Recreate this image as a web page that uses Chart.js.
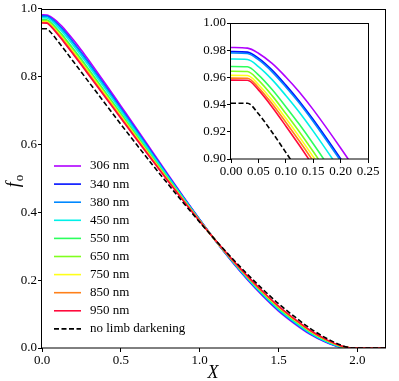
<!DOCTYPE html>
<html>
<head>
<meta charset="utf-8">
<script src="https://cdn.jsdelivr.net/npm/chart.js@4.4.1/dist/chart.umd.min.js"></script>
<style>
  html, body { margin: 0; padding: 0; background: #fff; }
  #wrap { position: relative; width: 399px; height: 381px; }
  #main { position: absolute; left: 0; top: 0; }
  #inset { position: absolute; left: 185px; top: 13px; }
</style>
</head>
<body>
<div id="wrap">
  <canvas id="main" width="399" height="381"></canvas>
  <canvas id="inset" width="200" height="175"></canvas>
</div>
<script>
// separation X and overlap fraction f_o for each wavelength
const X = [0, 0.03, 0.05, 0.075, 0.1, 0.125, 0.15, 0.2, 0.25, 0.3, 0.4, 0.5, 0.6, 0.7, 0.8, 0.9, 1.0,
  1.1, 1.2, 1.3, 1.4, 1.5, 1.6, 1.7, 1.8, 1.9, 1.95, 1.97, 2.0, 2.175];

const f306 = [0.982, 0.9815, 0.9778, 0.9703, 0.9603, 0.9491, 0.9363, 0.9081, 0.8780, 0.8461, 0.7807, 0.7137, 0.6466, 0.5786, 0.5107, 0.4441, 0.3791, 0.3161, 0.2573, 0.2027, 0.1532, 0.1086, 0.0720, 0.0400, 0.0166, 0.0013, 0, 0, 0, 0];
const f340 = [0.979, 0.9786, 0.9741, 0.9653, 0.9543, 0.9423, 0.9290, 0.9002, 0.8700, 0.8382, 0.7733, 0.7071, 0.6408, 0.5739, 0.5073, 0.4419, 0.3781, 0.3163, 0.2585, 0.2047, 0.1556, 0.1113, 0.0746, 0.0422, 0.0182, 0.0021, 0.0002, 0, 0, 0];
const f380 = [0.978, 0.9776, 0.9730, 0.9641, 0.9530, 0.9410, 0.9276, 0.8987, 0.8685, 0.8368, 0.7719, 0.7058, 0.6397, 0.5731, 0.5066, 0.4415, 0.3779, 0.3164, 0.2588, 0.2050, 0.1561, 0.1118, 0.0751, 0.0426, 0.0185, 0.0022, 0.0002, 0, 0, 0];
const f450 = [0.9735, 0.9732, 0.9680, 0.9584, 0.9467, 0.9342, 0.9205, 0.8913, 0.8610, 0.8294, 0.7650, 0.6996, 0.6343, 0.5687, 0.5034, 0.4394, 0.3770, 0.3166, 0.2599, 0.2069, 0.1584, 0.1144, 0.0775, 0.0447, 0.0200, 0.0030, 0.0003, 0, 0, 0];
const f550 = [0.968, 0.9678, 0.9619, 0.9511, 0.9385, 0.9253, 0.9112, 0.8815, 0.8510, 0.8195, 0.7558, 0.6913, 0.6271, 0.5628, 0.4991, 0.4366, 0.3758, 0.3169, 0.2614, 0.2094, 0.1615, 0.1178, 0.0807, 0.0475, 0.0220, 0.0040, 0.0005, 0, 0, 0];
const f650 = [0.9645, 0.9643, 0.9580, 0.9466, 0.9335, 0.9199, 0.9055, 0.8755, 0.8450, 0.8136, 0.7502, 0.6863, 0.6227, 0.5593, 0.4965, 0.4350, 0.3750, 0.3171, 0.2624, 0.2108, 0.1633, 0.1198, 0.0827, 0.0491, 0.0232, 0.0046, 0.0007, 0, 0, 0];
const f750 = [0.9615, 0.9614, 0.9548, 0.9432, 0.9299, 0.9161, 0.9017, 0.8716, 0.8410, 0.8097, 0.7465, 0.6830, 0.6198, 0.5570, 0.4948, 0.4339, 0.3745, 0.3172, 0.2630, 0.2118, 0.1646, 0.1211, 0.0840, 0.0502, 0.0240, 0.0050, 0.0007, 0, 0, 0];
const f850 = [0.9595, 0.9594, 0.9526, 0.9406, 0.9270, 0.9130, 0.8984, 0.8681, 0.8375, 0.8062, 0.7433, 0.6801, 0.6173, 0.5549, 0.4933, 0.4329, 0.3741, 0.3173, 0.2635, 0.2127, 0.1657, 0.1223, 0.0851, 0.0512, 0.0247, 0.0053, 0.0008, 0, 0, 0];
const f950 = [0.958, 0.9579, 0.9508, 0.9383, 0.9243, 0.9099, 0.8951, 0.8647, 0.8340, 0.8028, 0.7401, 0.6772, 0.6148, 0.5529, 0.4918, 0.4319, 0.3737, 0.3174, 0.2641, 0.2135, 0.1667, 0.1235, 0.0862, 0.0522, 0.0254, 0.0057, 0.0009, 0, 0, 0];
const noLD = [0.941, 0.941, 0.9332, 0.9197, 0.9049, 0.8899, 0.8747, 0.8438, 0.8130, 0.7821, 0.7207, 0.6597, 0.5996, 0.5406, 0.4827, 0.4261, 0.3711, 0.3181, 0.2673, 0.2187, 0.1732, 0.1306, 0.0930, 0.0580, 0.0296, 0.0078, 0.0013, 0, 0, 0];

const seriesLabels = ['306 nm', '340 nm', '380 nm', '450 nm', '550 nm', '650 nm', '750 nm', '850 nm', '950 nm', 'no limb darkening'];
const seriesValues = [f306, f340, f380, f450, f550, f650, f750, f850, f950, noLD];
const seriesColors = ['#b000ff', '#0010ff', '#0088ff', '#00f0e8', '#2cff5c', '#80ff1e', '#ffff1a', '#ff801a', '#ff0a3c', '#000000'];

const xTicks = [0, 0.5, 1.0, 1.5, 2.0];
const yTicks = [0, 0.2, 0.4, 0.6, 0.8, 1.0];
const insetXTicks = [0, 0.05, 0.10, 0.15, 0.20, 0.25];
const insetYTicks = [0.90, 0.92, 0.94, 0.96, 0.98, 1.00];

const SERIF = '"Liberation Serif", "DejaVu Serif", serif';

function makeDatasets() {
  const n = seriesValues.length;
  return seriesValues.map((vals, i) => ({
    label: seriesLabels[i],
    data: X.map((x, j) => ({ x: x, y: vals[j] })),
    borderColor: seriesColors[i],
    borderWidth: 1.6,
    borderDash: i === n - 1 ? [5, 2.5] : [],
    pointRadius: 0,
    fill: false,
    cubicInterpolationMode: 'monotone',
    order: n - i   // later series drawn on top
  }));
}

function axisCfg(min, max, ticks, digits, size, extra) {
  return Object.assign({
    type: 'linear',
    min: min,
    max: max,
    afterBuildTicks: (ax) => { ax.ticks = ticks.map(v => ({ value: v })); },
    grid: { drawOnChartArea: false, drawTicks: true, tickLength: 4, color: '#000', lineWidth: 1 },
    border: { display: false },
    ticks: {
      autoSkip: false, maxRotation: 0, color: '#000', padding: 1,
      font: { family: SERIF, size: size },
      callback: (v) => Number(v).toFixed(digits)
    }
  }, extra || {});
}

// frame around plot area
const framePlugin = {
  id: 'frame',
  afterDraw(chart) {
    const a = chart.chartArea, ctx = chart.ctx;
    ctx.save();
    ctx.strokeStyle = '#000';
    ctx.lineWidth = 1;
    ctx.strokeRect(Math.round(a.left) - 0.5, Math.round(a.top) + 0.5,
      Math.round(a.right - a.left) + 1, Math.round(a.bottom - a.top) - 0.5);
    ctx.restore();
  }
};

// legend in lower-left corner + axis titles
const decorPlugin = {
  id: 'decor',
  afterDraw(chart) {
    const ctx = chart.ctx;
    ctx.save();
    chart.data.datasets.forEach((ds, i) => {
      const y = 166 + i * 18.1;
      ctx.strokeStyle = ds.borderColor;
      ctx.lineWidth = 1.6;
      ctx.setLineDash(ds.borderDash || []);
      ctx.beginPath();
      ctx.moveTo(54, y);
      ctx.lineTo(81, y);
      ctx.stroke();
      ctx.setLineDash([]);
      ctx.fillStyle = '#000';
      ctx.font = '13px ' + SERIF;
      ctx.textBaseline = 'middle';
      ctx.textAlign = 'left';
      ctx.fillText(ds.label, 90, y);
    });

    // x title
    ctx.font = 'italic 18px ' + SERIF;
    ctx.textAlign = 'center';
    ctx.textBaseline = 'alphabetic';
    ctx.fillText('X', 213, 378);

    // y title f_o
    ctx.translate(19, 181);
    ctx.rotate(-Math.PI / 2);
    ctx.font = 'italic 18px ' + SERIF;
    const wf = ctx.measureText('f').width;
    ctx.font = '13px ' + SERIF;
    const wo = ctx.measureText('o').width;
    const x0 = -(wf + wo + 1) / 2;
    ctx.textAlign = 'left';
    ctx.font = 'italic 18px ' + SERIF;
    ctx.fillText('f', x0, 0);
    ctx.font = '13px ' + SERIF;
    ctx.fillText('o', x0 + wf + 1, 4);
    ctx.restore();
  }
};

new Chart(document.getElementById('main'), {
  type: 'line',
  data: { datasets: makeDatasets() },
  options: {
    responsive: false,
    animation: false,
    devicePixelRatio: 1,
    layout: { padding: { top: 5, right: 14, left: 0, bottom: 0 } },
    plugins: { legend: { display: false }, tooltip: { enabled: false } },
    scales: {
      x: axisCfg(0, 2.175, xTicks, 1, 13, { afterFit: (s) => { s.height = 33; } }),
      y: axisCfg(0, 1, yTicks, 1, 13, { afterFit: (s) => { s.width = 42; } })
    }
  },
  plugins: [framePlugin, decorPlugin]
});

new Chart(document.getElementById('inset'), {
  type: 'line',
  data: { datasets: makeDatasets() },
  options: {
    responsive: false,
    animation: false,
    devicePixelRatio: 1,
    layout: { padding: { top: 10, right: 17, left: 0, bottom: 0 } },
    plugins: { legend: { display: false }, tooltip: { enabled: false } },
    scales: {
      x: axisCfg(0, 0.25, insetXTicks, 2, 13, { afterFit: (s) => { s.height = 29; } }),
      y: axisCfg(0.9, 1.0, insetYTicks, 2, 13, { afterFit: (s) => { s.width = 46; } })
    }
  },
  plugins: [framePlugin]
});
</script>
</body>
</html>
